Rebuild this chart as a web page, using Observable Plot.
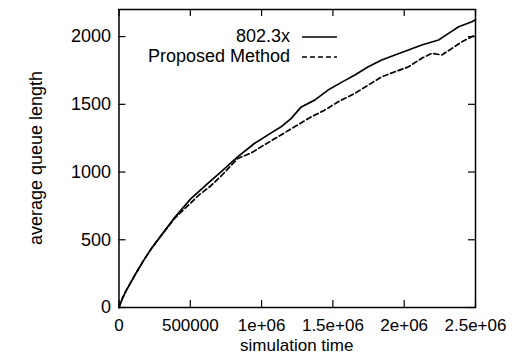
<!DOCTYPE html>
<html><head><meta charset="utf-8">
<script src="https://cdn.jsdelivr.net/npm/d3@7"></script>
<script src="https://cdn.jsdelivr.net/npm/@observablehq/plot@0.6"></script>
<style>body{margin:0;background:#fff}</style>
</head><body><div id="chart"></div>
<script>
const seriesNames = ["802.3x", "Proposed Method"];
const stdTime = [0, 10000, 25000, 50000, 80000, 120000, 174000, 230000, 291000, 384000, 501000, 621000, 715000, 832000, 949000, 1067000, 1137000, 1208000, 1278000, 1372000, 1466000, 1560000, 1654000, 1748000, 1842000, 1935000, 2030000, 2123000, 2241000, 2311000, 2382000, 2475000, 2500000];
const stdQueue = [0, 30, 70, 125, 180, 255, 350, 440, 525, 656, 800, 915, 1001, 1112, 1211, 1289, 1334, 1396, 1481, 1531, 1605, 1662, 1716, 1777, 1827, 1864, 1901, 1938, 1975, 2024, 2073, 2110, 2125];
const propTime = [0, 10000, 25000, 50000, 80000, 120000, 174000, 230000, 291000, 384000, 450000, 501000, 560000, 640000, 720000, 832000, 926000, 996000, 1114000, 1231000, 1349000, 1442000, 1537000, 1654000, 1748000, 1842000, 1935000, 2030000, 2123000, 2194000, 2264000, 2335000, 2405000, 2475000, 2500000];
const propQueue = [0, 30, 70, 125, 180, 255, 350, 440, 525, 650, 720, 770, 830, 895, 975, 1100, 1140, 1186, 1260, 1334, 1408, 1457, 1519, 1581, 1642, 1703, 1740, 1777, 1840, 1876, 1864, 1913, 1962, 2000, 2010];
const xTicks = [0, 500000, 1000000, 1500000, 2000000, 2500000];
const xTickLabels = ["0", "500000", "1e+06", "1.5e+06", "2e+06", "2.5e+06"];
const yTicks = [0, 500, 1000, 1500, 2000];
const yTickLabels = ["0", "500", "1000", "1500", "2000"];
const xTitle = "simulation time";
const yTitle = "average queue length";

const stdData = stdTime.map((t, i) => ({t, q: stdQueue[i]}));
const propData = propTime.map((t, i) => ({t, q: propQueue[i]}));

const W = 520, H = 356, ML = 118.5, MR = 45, MT = 9, MB = 49;
const PW = W - ML - MR, PH = H - MT - MB, TL = 7;
const font = '"Liberation Sans", Arial, Helvetica, sans-serif';

const svg = Plot.plot({
  width: W, height: H,
  marginLeft: ML, marginRight: MR, marginTop: MT, marginBottom: MB,
  style: {fontFamily: font, fontSize: "18px", background: "white", color: "black"},
  x: {domain: [0, 2500000], axis: null},
  y: {domain: [0, 2200], axis: null},
  marks: [
    // inward ticks on all four sides
    Plot.tickX(xTicks, {x: d => d, insetTop: PH - TL, stroke: "black", strokeWidth: 1.2}),
    Plot.tickX(xTicks, {x: d => d, insetBottom: PH - TL, stroke: "black", strokeWidth: 1.2}),
    Plot.tickY(yTicks, {y: d => d, insetRight: PW - TL, stroke: "black", strokeWidth: 1.2}),
    Plot.tickY(yTicks, {y: d => d, insetLeft: PW - TL, stroke: "black", strokeWidth: 1.2}),
    Plot.axisX(xTicks, {anchor: "bottom", tickSize: 0, tickPadding: 11, fontSize: 17, fill: "black",
      tickFormat: d => xTickLabels[xTicks.indexOf(d)], label: null}),
    Plot.axisY(yTicks, {anchor: "left", tickSize: 0, tickPadding: 8, fontSize: 18, fill: "black",
      tickFormat: d => yTickLabels[yTicks.indexOf(d)], label: null}),
    Plot.line(stdData, {x: "t", y: "q", stroke: "black", strokeWidth: 1.7}),
    Plot.line(propData, {x: "t", y: "q", stroke: "black", strokeWidth: 1.7, strokeDasharray: "5,3"}),
    Plot.frame({stroke: "black", strokeWidth: 1.5})
  ]
});

const s = d3.select(svg);
// axis titles
s.append("text").attr("x", ML + PW / 2).attr("y", 351)
  .attr("text-anchor", "middle").attr("font-size", 17).attr("font-family", font).attr("fill", "black").text(xTitle);
s.append("text").attr("transform", `translate(42,${MT + PH / 2}) rotate(-90)`)
  .attr("text-anchor", "middle").attr("font-size", 18).attr("font-family", font).attr("fill", "black").text(yTitle);
// legend
const leg = s.append("g").attr("font-family", font).attr("font-size", 18).attr("fill", "black");
const legY = [36, 56];
const dashes = [null, "5,3"];
seriesNames.forEach((name, i) => {
  leg.append("text").attr("x", 290).attr("y", legY[i]).attr("dy", "0.35em").attr("text-anchor", "end").text(name);
  leg.append("line").attr("x1", 302).attr("x2", 337).attr("y1", legY[i] + 1).attr("y2", legY[i] + 1)
    .attr("stroke", "black").attr("stroke-width", 1.7).attr("stroke-dasharray", dashes[i]);
});
document.getElementById("chart").appendChild(svg);
</script>
</body></html>
